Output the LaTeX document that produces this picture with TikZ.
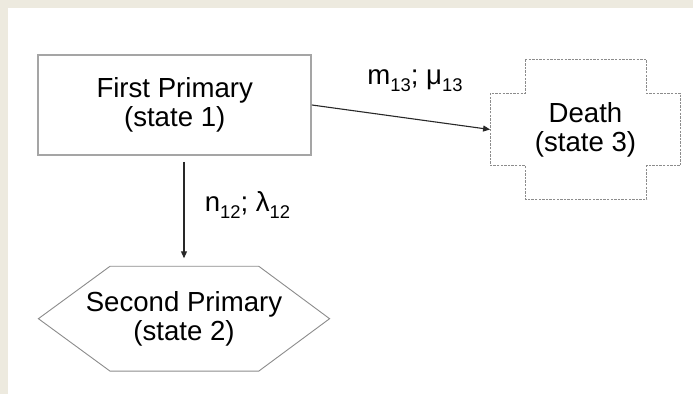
\documentclass[tikz,border=0pt]{standalone}
\usepackage{fontspec}
\setmainfont{Liberation Sans}
\usetikzlibrary{arrows.meta}
\definecolor{pagebg}{RGB}{237,234,223}
\definecolor{edgegray}{RGB}{165,165,165}
\definecolor{linegray}{RGB}{140,140,140}
\definecolor{inkgray}{RGB}{40,40,40}
\tikzset{
  state/.style={align=center, font=\fontsize{13.8}{14.5}\selectfont, inner sep=0pt},
  box/.style={state, rectangle, draw=edgegray, line width=0.8pt, minimum width=136.4pt, minimum height=50pt},
  outline/.style={draw=linegray, line width=0.45pt},
  arrow/.style={-{Triangle[length=3.5pt,width=3pt]}, draw=inkgray, line width=0.55pt},
  rate/.style={font=\fontsize{13.8}{14.5}\selectfont, inner sep=0pt, anchor=base},
}
\newcommand{\idx}[1]{\raisebox{-3.5pt}{\fontsize{9.2}{10}\selectfont #1}}

\begin{document}
\begin{tikzpicture}[x=0.5pt,y=-0.5pt]
    \fill[pagebg] (0,0) rectangle (693,394);
    \fill[white] (8,8) rectangle (693,394);
    % states
    \node[box] (first) at (174.7,105) {First Primary\\(state 1)};
    \node[state, minimum width=95pt, minimum height=69.5pt] (death) at (585.5,129.5) {Death\\(state 3)};
    \node[state, minimum width=145.2pt, minimum height=52pt] (second) at (184,318.7) {Second Primary\\(state 2)};
    % cross round state 3
    \draw[outline, dash pattern=on 1.2pt off 0.6pt]
      ([xshift=17.5pt]death.north west) -- ([xshift=-17pt]death.north east)
      -- ([xshift=-17pt,yshift=-17pt]death.north east) -- ([yshift=-17pt]death.north east)
      -- ([yshift=17pt]death.south east) -- ([xshift=-17pt,yshift=17pt]death.south east)
      -- ([xshift=-17pt]death.south east) -- ([xshift=17.5pt]death.south west)
      -- ([xshift=17.5pt,yshift=17pt]death.south west) -- ([yshift=17pt]death.south west)
      -- ([yshift=-17pt]death.north west) -- ([xshift=17.5pt,yshift=-17pt]death.north west)
      -- cycle;
    % hexagon round state 2
    \draw[outline]
      (second.west) -- ([xshift=35.8pt]second.north west) -- ([xshift=-35.4pt]second.north east)
      -- (second.east) -- ([xshift=-35.4pt]second.south east) -- ([xshift=35.8pt]second.south west)
      -- cycle;
    % transitions
    \draw[arrow, shorten <=3pt, shorten >=4pt] (second.north |- first.south) -- (second.north);
    \draw[arrow] (first.east) -- (death.west);
    \node[rate] (rate13) at (415,85) {m\idx{13}; μ\idx{13}};
    \node[rate] (rate12) at (247.5,211.7) {n\idx{12}; λ\idx{12}};
  \end{tikzpicture}
\end{document}
